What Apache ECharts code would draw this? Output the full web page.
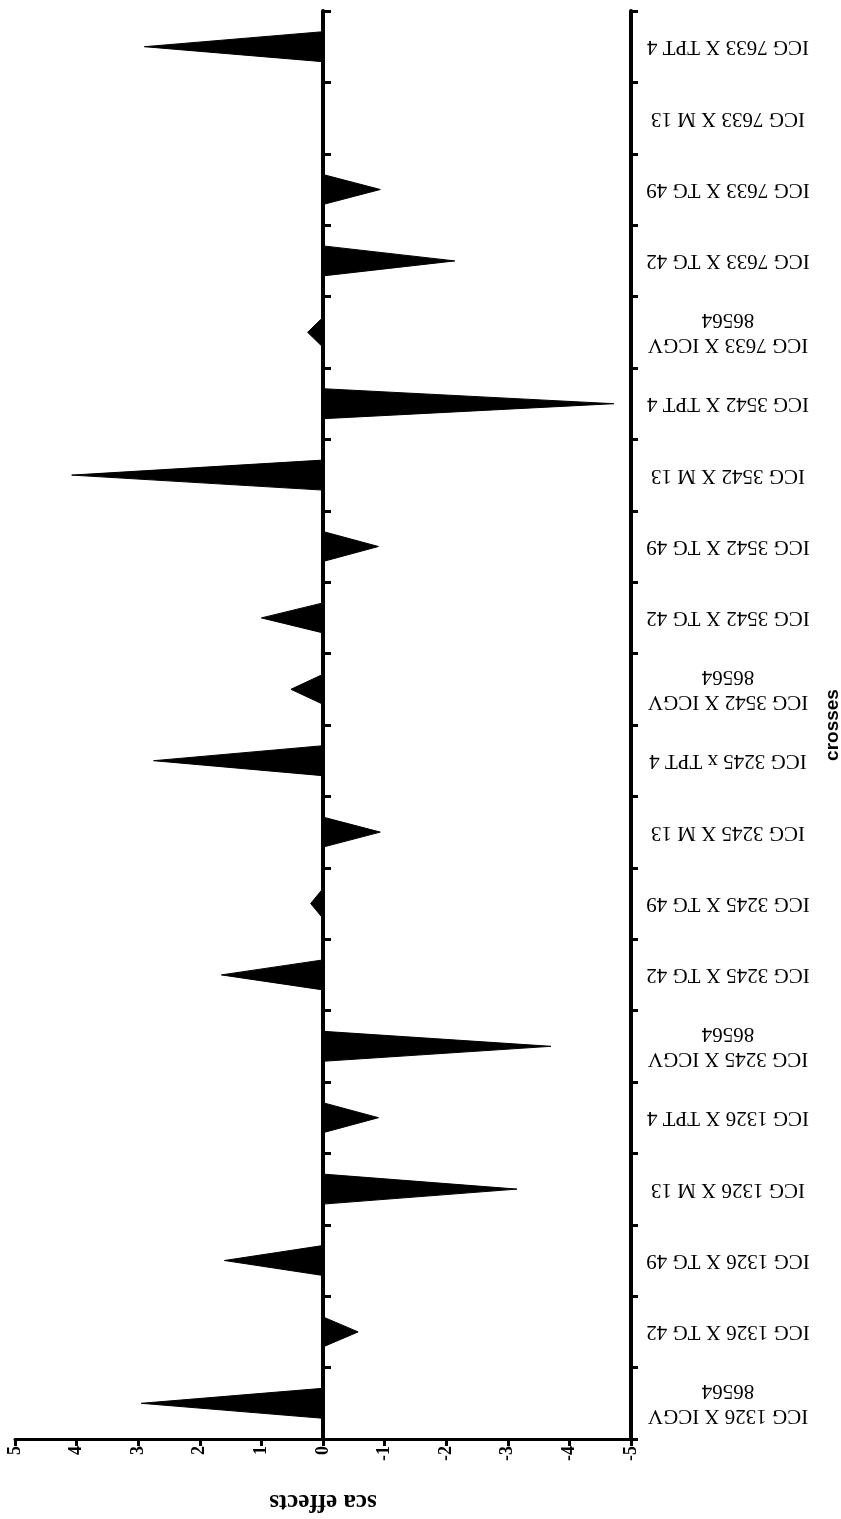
<!DOCTYPE html>
<html>
<head>
<meta charset="utf-8">
<script src="https://cdn.jsdelivr.net/npm/echarts@6/dist/echarts.min.js"></script>
<style>
html,body{margin:0;padding:0;background:#fff;}
#chart{width:841px;height:1519px;}
</style>
</head>
<body>
<div id="chart"></div>
<script>
// Categories, listed from the bottom of the axis to the top
const crosses = [
  'ICG 1326 X ICGV\n86564',
  'ICG 1326 X TG 42',
  'ICG 1326 X TG 49',
  'ICG 1326 X M 13',
  'ICG 1326 X TPT 4',
  'ICG 3245 X ICGV\n86564',
  'ICG 3245 X TG 42',
  'ICG 3245 X TG 49',
  'ICG 3245 X M 13',
  'ICG 3245 x TPT 4',
  'ICG 3542 X ICGV\n86564',
  'ICG 3542 X TG 42',
  'ICG 3542 X TG 49',
  'ICG 3542 X M 13',
  'ICG 3542 X TPT 4',
  'ICG 7633 X ICGV\n86564',
  'ICG 7633 X TG 42',
  'ICG 7633 X TG 49',
  'ICG 7633 X M 13',
  'ICG 7633 X TPT 4'
];
// sca effects
const scaEffects = [
  2.95, -0.57, 1.6, -3.15, -0.9,
  -3.7, 1.65, 0.2, -0.93, 2.75,
  0.52, 1.0, -0.9, 4.08, -4.72,
  0.25, -2.14, -0.93, 0, 2.9
];
const valueMin = -5;
const valueMax = 5;
const valueStep = 1;

const serif = "'Liberation Serif','Times New Roman',serif";
const chart = echarts.init(document.getElementById('chart'), null, {renderer: 'canvas'});

chart.setOption({
  backgroundColor: '#ffffff',
  animation: false,
  grid: {left: 15, right: 210, top: 11, bottom: 80, containLabel: false, outerBoundsMode: 'none'},
  xAxis: {
    type: 'value',
    min: valueMin, max: valueMax, interval: valueStep,
    inverse: true,
    position: 'bottom',
    name: 'sca effects',
    nameLocation: 'middle',
    nameGap: 50,
    nameRotate: 180,
    nameTextStyle: {fontFamily: serif, fontWeight: 'bold', fontSize: 25, color: '#000'},
    axisLine: {show: true, onZero: false, lineStyle: {color: '#000', width: 3}},
    axisTick: {show: true, length: 7, lineStyle: {color: '#000', width: 3}},
    splitLine: {show: false},
    axisLabel: {show: true, rotate: 90, margin: 7, fontFamily: serif, fontWeight: 'bold', fontSize: 18, color: '#000'}
  },
  yAxis: [
    {
      type: 'category',
      data: crosses,
      position: 'right',
      boundaryGap: true,
      name: 'crosses',
      nameLocation: 'middle',
      nameRotate: 90,
      nameGap: 192,
      nameTextStyle: {fontFamily: "'Liberation Sans',Arial,sans-serif", fontWeight: 'bold', fontSize: 19, color: '#000'},
      axisLine: {show: true, onZero: false, lineStyle: {color: '#000', width: 4}},
      axisTick: {show: true, alignWithLabel: false, length: 7, interval: 0, lineStyle: {color: '#000', width: 3}},
      axisLabel: {rotate: 180, align: 'center', margin: 97, interval: 0, fontFamily: serif, fontSize: 21, lineHeight: 25, color: '#000'},
      splitLine: {show: false}
    },
    {
      type: 'category',
      data: crosses,
      position: 'left',
      boundaryGap: true,
      axisLine: {show: true, onZero: true, lineStyle: {color: '#000', width: 4}},
      axisTick: {show: true, alignWithLabel: false, inside: true, length: 8, interval: 0, lineStyle: {color: '#000', width: 3}},
      axisLabel: {show: false},
      splitLine: {show: false}
    }
  ],
  series: [{
    type: 'custom',
    xAxisIndex: 0,
    yAxisIndex: 0,
    encode: {x: 0, y: 1},
    data: scaEffects.map((v, i) => [v, crosses[i]]),
    renderItem: function (params, api) {
      const v = api.value(0);
      const c = api.value(1);
      const tip = api.coord([v, c]);
      const base = api.coord([0, c]);
      const hw = api.size([0, 1])[1] * 0.21;
      return {
        type: 'polygon',
        shape: {points: [[base[0], base[1] - hw], tip, [base[0], base[1] + hw]]},
        style: {fill: '#000', stroke: '#000', lineWidth: 1}
      };
    }
  }]
});
</script>
</body>
</html>
